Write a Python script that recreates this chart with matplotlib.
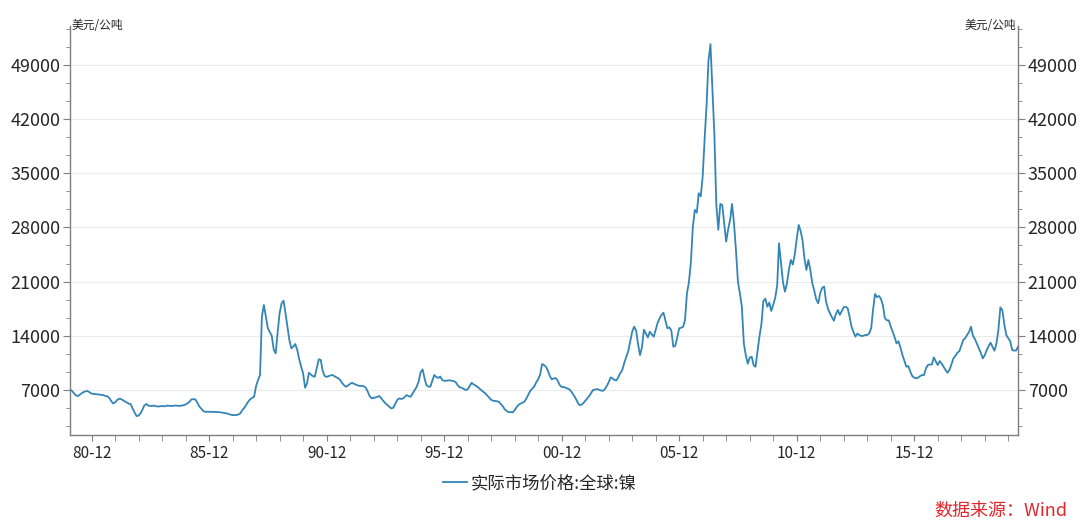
import numpy as np
import pandas as pd
import matplotlib
matplotlib.use('Agg')
import matplotlib.pyplot as plt
from matplotlib.ticker import FixedLocator, MultipleLocator

plt.rcParams['font.family'] = ['Noto Sans CJK SC', 'DejaVu Sans']

# monthly nickel price, USD/t (Jan 1980 - May 2020)
prices_1980s = [
    7090, 6900, 6600, 6300, 6225, 6400, 6600, 6750, 6850, 6870, 6700, 6550,
    6500, 6480, 6450, 6420, 6400, 6350, 6250, 6200, 6000, 5600, 5280, 5400,
    5700, 5880, 5850, 5700, 5550, 5400, 5250, 5190, 4600, 4100, 3640, 3700,
    3990, 4500, 5020, 5200, 5000, 4950, 4950, 5000, 4900, 4880, 4900, 4950,
    4900, 4950, 5000, 4950, 4950, 4980, 5000, 4980, 4950, 5000, 5050, 5150,
    5300, 5500, 5800, 5820, 5800, 5400, 4900, 4600, 4300, 4200, 4200, 4200,
    4200, 4190, 4180, 4170, 4150, 4120, 4080, 4030, 3990, 3900, 3820, 3780,
    3770, 3780, 3850, 4000, 4420, 4700, 5100, 5500, 5800, 6000, 6130, 7500,
    8300, 8940, 16500, 17980, 16500, 15000, 14500, 14000, 12200, 11740, 14500, 16910,
    18200, 18540, 17000, 15180, 13500, 12390, 12600, 12940, 12200, 11000, 10000, 9160,
]
prices_1990s = [
    7300, 7900, 9240, 9000, 8800, 8720, 9800, 10970, 10900, 9500, 8810, 8700,
    8800, 8900, 8940, 8800, 8650, 8510, 8300, 7900, 7600, 7430, 7600, 7800,
    7940, 7800, 7700, 7600, 7520, 7550, 7500, 7300, 6800, 6200, 5930, 6000,
    6050, 6150, 6220, 5900, 5600, 5300, 5100, 4850, 4640, 4700, 5200, 5700,
    5930, 5860, 5900, 6150, 6350, 6200, 6150, 6600, 7000, 7430, 8100, 9300,
    9670, 8500, 7650, 7450, 7430, 8200, 8940, 8700, 8560, 8750, 8300, 8200,
    8200, 8250, 8250, 8200, 8150, 8000, 7600, 7350, 7300, 7150, 7000, 7100,
    7500, 7940, 7750, 7600, 7430, 7200, 7000, 6800, 6570, 6300, 6000, 5750,
    5620, 5600, 5550, 5490, 5200, 4900, 4510, 4300, 4150, 4150, 4120, 4400,
    4800, 5100, 5250, 5360, 5490, 5900, 6400, 6900, 7200, 7430, 8000, 8380,
]
prices_2000s = [
    9000, 10360, 10230, 10010, 9500, 8800, 8380, 8510, 8550, 8200, 7650, 7400,
    7400, 7300, 7200, 7090, 6800, 6400, 6000, 5500, 5060, 5100, 5300, 5600,
    5900, 6220, 6600, 7000, 7050, 7130, 7050, 6950, 6900, 7100, 7500, 8000,
    8640, 8500, 8300, 8250, 8700, 9200, 9600, 10500, 11300, 12000, 13300, 14500,
    15180, 14700, 13000, 11520, 12500, 14800, 14300, 13800, 14530, 14200, 13890, 14800,
    15700, 16270, 16700, 16990, 16000, 14970, 15100, 14700, 12600, 12700, 13800, 14970,
    15050, 15180, 16000, 19500, 20900, 23500, 28000, 30260, 29900, 32410, 32000, 34560,
    39500, 44000, 49500, 51660, 46000, 40000, 31000, 27700, 31030, 30900, 28500, 26160,
    27760, 29000, 31030, 28500, 25090, 21000, 19500, 17760, 13000, 11500, 10400, 11200,
    11300, 10200, 10010, 12000, 13900, 15500, 18500, 18800, 17760, 18300, 17210, 18000,
]
prices_2010s = [
    18900, 20500, 25950, 23500, 21000, 19700, 20700, 22500, 23800, 23200, 24500, 26500,
    28320, 27500, 26380, 24000, 22500, 23800, 22500, 20790, 19800, 18700, 18200, 19500,
    20200, 20360, 18410, 17500, 16910, 16400, 15950, 16800, 17340, 16700, 17200, 17700,
    17760, 17550, 16500, 15180, 14500, 13890, 14300, 14100, 13980, 14000, 14100, 14110,
    14320, 15000, 17300, 19400, 19000, 19150, 18800, 17980, 16300, 16000, 16000, 15200,
    14530, 13800, 13030, 13300, 12500, 11520, 10800, 10010, 10100, 9400, 8810, 8600,
    8510, 8600, 8800, 8940, 8940, 9800, 10230, 10300, 10300, 11220, 10700, 10230,
    10740, 10400, 10010, 9600, 9240, 9600, 10300, 11090, 11400, 11820, 12000, 12700,
    13460, 13700, 14110, 14500, 15180, 14000, 13600, 13000, 12390, 11800, 11090, 11500,
    12170, 12700, 13110, 12600, 12080, 13000, 14750, 17680, 17300, 15500, 14110, 13700,
]
prices_2020s = [13300, 12170, 12100, 12100, 12600]

series_name = '实际市场价格:全球:镍'
unit_label = '美元/公吨'
source_label = '数据来源：Wind'

y_ticks = [7000, 14000, 21000, 28000, 35000, 42000, 49000]
x_tick_dates = ['1980-12', '1985-12', '1990-12', '1995-12',
                '2000-12', '2005-12', '2010-12', '2015-12']
x_tick_labels = ['80-12', '85-12', '90-12', '95-12',
                 '00-12', '05-12', '10-12', '15-12']

line_color = '#3385b5'
axis_color = '#7f7f7f'
text_color = '#262626'


def main():
    prices = prices_1980s + prices_1990s + prices_2000s + prices_2010s + prices_2020s
    dates = pd.date_range('1980-01-01', periods=len(prices), freq='MS')

    fig = plt.figure(figsize=(10.8, 5.21), dpi=100)
    ax = fig.add_axes([70 / 1080, 1 - 435 / 521, 948 / 1080, 409 / 521])

    ax.plot(dates, prices, color=line_color, lw=1.3, label=series_name)

    ax.set_xlim(dates[0], dates[-1])
    ax.set_ylim(1200, 54000)

    # y axis on both sides
    ax.yaxis.set_major_locator(FixedLocator(y_ticks))
    ax.yaxis.set_minor_locator(MultipleLocator(7000 / 3))
    ax.tick_params(axis='y', which='both', left=True, right=True,
                   labelleft=True, labelright=True, direction='out',
                   color=axis_color)
    ax.tick_params(axis='y', which='major', length=5, pad=2,
                   labelsize=13, labelcolor=text_color)
    ax.tick_params(axis='y', which='minor', length=3)

    # x axis: major every 5 years, minor every year (December)
    major_x = pd.to_datetime(x_tick_dates)
    minor_x = pd.date_range('1980-12-01', '2019-12-01', freq='12MS')
    ax.set_xticks(major_x)
    ax.set_xticklabels(x_tick_labels)
    ax.set_xticks(minor_x, minor=True)
    ax.tick_params(axis='x', which='both', direction='out', length=4,
                   color=axis_color)
    ax.tick_params(axis='x', which='major', labelsize=11, pad=3,
                   labelcolor=text_color)

    for side in ['left', 'right', 'bottom']:
        ax.spines[side].set_color(axis_color)
        ax.spines[side].set_linewidth(1.0)
    ax.spines['top'].set_visible(False)

    ax.grid(axis='y', which='major', color='#ebebeb', lw=0.8)
    ax.set_axisbelow(True)

    # units at top of both axes
    ax.text(0.002, 1.0, unit_label, transform=ax.transAxes, ha='left',
            va='center', fontsize=8.5, color=text_color)
    ax.text(0.998, 1.0, unit_label, transform=ax.transAxes, ha='right',
            va='center', fontsize=8.5, color=text_color)

    ax.legend(loc='center', bbox_to_anchor=(0.5, 0.073),
              bbox_transform=fig.transFigure, frameon=False, fontsize=12.5,
              handlelength=1.4, handletextpad=0.2, labelcolor=text_color)

    fig.text(0.988, 0.019, source_label, color='#e3262b', fontsize=13,
             ha='right', va='center', style='italic')

    fig.savefig('out.png', dpi=100)


if __name__ == "__main__":
    main()
